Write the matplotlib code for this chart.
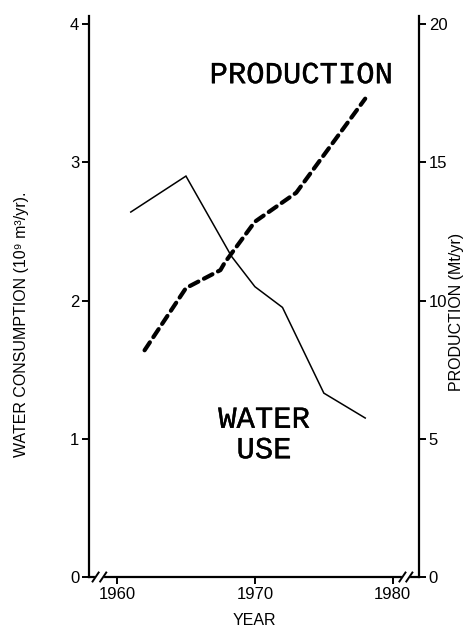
import matplotlib
matplotlib.use("Agg")
import matplotlib.pyplot as plt
from matplotlib import transforms as mtransforms
from matplotlib import patheffects

plt.rcParams['font.family'] = ['Liberation Sans', 'DejaVu Sans']

# Water use (10^9 m3/yr), left axis
water_years = [1961, 1965, 1968.3, 1970, 1972, 1975, 1978]
water_use = [2.64, 2.90, 2.32, 2.10, 1.95, 1.33, 1.15]

# Production (Mt/yr), right axis
prod_years = [1962, 1965, 1967.5, 1967.8, 1970, 1973, 1978]
production = [8.2, 10.45, 11.1, 11.36, 12.85, 13.9, 17.3]

year_ticks = [1960, 1970, 1980]
water_ticks = [0, 1, 2, 3, 4]
prod_ticks = [0, 5, 10, 15, 20]

fig = plt.figure(figsize=(4.7, 6.32), dpi=100)
ax = fig.add_axes([89 / 470, 55 / 632, 330 / 470, 561 / 632])
ax2 = ax.twinx()

ax.plot(water_years, water_use, color="black", lw=1.1, solid_joinstyle="miter")
ax2.plot(prod_years, production, color="black", lw=3.0,
         linestyle=(0, (2.3, 1.5)), dash_capstyle="round")

ax.set_xlim(1957.97, 1981.9)
ax.set_ylim(0, 4.058)
ax2.set_ylim(0, 20.29)

ax.set_xticks(year_ticks)
ax.set_yticks(water_ticks)
ax2.set_yticks(prod_ticks)

for a in (ax, ax2):
    a.spines["top"].set_visible(False)
    for s in ("left", "right", "bottom"):
        a.spines[s].set_linewidth(1.6)
    a.tick_params(direction="out", length=5, width=1.4, labelsize=12, pad=2)
ax2.spines["left"].set_visible(False)
ax2.spines["bottom"].set_visible(False)
ax.spines["right"].set_visible(False)

ax.set_xlabel("YEAR", fontsize=11.5, labelpad=8)

fig.text(22 / 470, 1 - 324 / 632, "WATER CONSUMPTION (10⁹ m³/yr).",
         rotation=90, ha="center", va="center", fontsize=11.5)
fig.text(456 / 470, 1 - 312 / 632, "PRODUCTION (Mt/yr)",
         rotation=90, ha="center", va="center", fontsize=11.5)

# curve labels in typewriter face
ink = [patheffects.withStroke(linewidth=0.25, foreground="black")]
ax.text(1973.33, 3.63, "PRODUCTION", fontsize=22, family="Liberation Mono",
        ha="center", va="center", path_effects=ink)
ax.text(1970.65, 1.027, "WATER\nUSE", fontsize=22, family="Liberation Mono",
        ha="center", va="center", linespacing=1.02, path_effects=ink)

# axis break marks on the year axis
trans = mtransforms.blended_transform_factory(ax.transData, ax.transAxes)
for x1, x2 in ((1958.45, 1959.0), (1980.7, 1981.2)):
    ax.plot([x1 + 0.1, x2 - 0.1], [0, 0], color="white", lw=3,
            transform=trans, clip_on=False, zorder=5)
    for xc in (x1, x2):
        ax.plot([xc - 0.22, xc + 0.22], [-0.008, 0.008], color="black",
                lw=1.4, transform=trans, clip_on=False, zorder=6)

fig.savefig("out.png", dpi=100)
